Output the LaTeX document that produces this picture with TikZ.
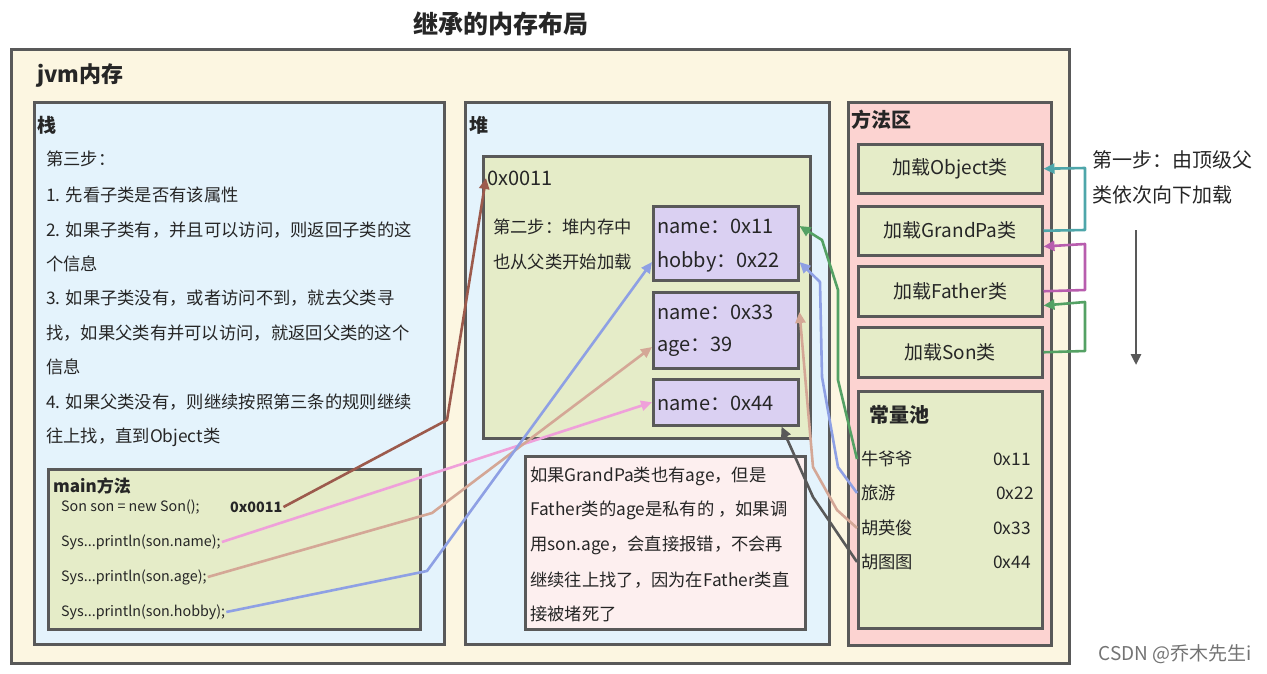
\documentclass[tikz,border=0pt]{standalone}
\usepackage{fontspec}
\setmainfont{Noto Sans CJK SC}
\usetikzlibrary{arrows.meta}
\definecolor{edge}{RGB}{89,89,89}
\definecolor{cream}{RGB}{252,246,225}
\definecolor{sky}{RGB}{228,243,252}
\definecolor{leaf}{RGB}{229,236,200}
\definecolor{lilac}{RGB}{218,208,242}
\definecolor{rose}{RGB}{252,211,209}
\definecolor{blush}{RGB}{253,239,239}
\definecolor{brownl}{RGB}{156,90,76}
\definecolor{pinkl}{RGB}{239,160,218}
\definecolor{tanl}{RGB}{212,167,150}
\definecolor{bluel}{RGB}{142,160,228}
\definecolor{greenl}{RGB}{84,161,100}
\definecolor{teall}{RGB}{78,166,170}
\definecolor{magl}{RGB}{184,93,174}
\newcommand{\fsize}[1]{\fontsize{#1}{#1}\selectfont}

\begin{document}
\begin{tikzpicture}[x=1pt,y=-1pt,
	box/.style={draw=edge,line width=2.5pt,anchor=north west,inner sep=0pt},
	head/.style={anchor=west,inner sep=1pt,font=\fsize{20}\bfseries,text=black!85},
	txt/.style={anchor=west,inner sep=1pt,font=\fsize{17.3},text=black!85},
	code/.style={anchor=west,inner sep=1pt,font=\fsize{14.3},text=black!85},
	field/.style={anchor=west,inner sep=1pt,font=\fsize{20},text=black!85},
	link/.style={line width=2.6pt,line join=round,-{Triangle[length=11pt,width=10pt]}}]
		\useasboundingbox (0,0) rectangle (1267,673);
		\node[anchor=west,inner sep=0pt,font=\fsize{25}\bfseries,text=black!85] (title) at (413,24) {继承的内存布局};
		\node[box,fill=cream,line width=3pt,minimum width=1058pt,minimum height=614pt] (jvm) at (10,48) {};
		\node[head,font=\fsize{22}\bfseries] (jvmt) at (36,76) {jvm内存};

		\node[box,fill=sky,minimum width=410pt,minimum height=542pt] (stack) at (33,101) {};
		\node[head,font=\fsize{19}\bfseries] (stackt) at (36,125) {栈};
		\node[txt] (s0) at (45,159) {第三步：};
		\node[txt] (s1) at (45,195) {1. 先看子类是否有该属性};
		\node[txt] (s2) at (45,230) {2. 如果子类有，并且可以访问，则返回子类的这};
		\node[txt] (s3) at (45,264) {个信息};
		\node[txt] (s4) at (45,298) {3. 如果子类没有，或者访问不到，就去父类寻};
		\node[txt] (s5) at (45,333) {找，如果父类有并可以访问，就返回父类的这个};
		\node[txt] (s6) at (45,367) {信息};
		\node[txt] (s7) at (45,402) {4. 如果父类没有，则继续按照第三条的规则继续};
		\node[txt] (s8) at (45,437) {往上找，直到Object类};

		\node[box,fill=leaf,minimum width=372pt,minimum height=160pt] (main) at (47,468) {};
		\node[head,font=\fsize{17}\bfseries] (maint) at (52,486) {main方法};
		\node[code] (snew) at (60,507) {Son son = new Son();};
		\node[code,font=\fsize{14.3}\bfseries] (addr) at (229,507) {0x0011};
		\node[code] (sname) at (60,542) {Sys...println(son.name);};
		\node[code] (sage) at (60,577) {Sys...println(son.age);};
		\node[code] (shobby) at (60,612) {Sys...println(son.hobby);};

		\node[box,fill=sky,minimum width=364pt,minimum height=542pt] (heap) at (464,101) {};
		\node[head,font=\fsize{19}\bfseries] (heapt) at (468,125) {堆};
		\node[box,fill=leaf,minimum width=327pt,minimum height=282pt] (obj) at (482,155) {};
		\node[field] (heapaddr) at (486,178) {0x0011};
		\node[txt] (h1) at (492,227) {第二步：堆内存中};
		\node[txt] (h2) at (492,262) {也从父类开始加载};
		\node[box,fill=lilac,minimum width=145pt,minimum height=74pt] (f1) at (652,205) {};
		\node[field] (n11) at (656,226) {name：0x11};
		\node[field] (hobby) at (656,262) {hobby：0x22};
		\node[box,fill=lilac,minimum width=145pt,minimum height=76pt] (f2) at (652,291) {};
		\node[field] (n33) at (656,312) {name：0x33};
		\node[field] (age) at (656,347) {age：39};
		\node[box,fill=lilac,minimum width=145pt,minimum height=46pt] (f3) at (652,378) {};
		\node[field] (n44) at (656,403) {name：0x44};

		\node[box,fill=blush,minimum width=280pt,minimum height=173pt] (note) at (524,455) {};
		\node[txt] (t1) at (529,476) {如果GrandPa类也有age，但是};
		\node[txt] (t2) at (529,510) {Father类的age是私有的 ，如果调};
		\node[txt] (t3) at (529,545) {用son.age，会直接报错，不会再};
		\node[txt] (t4) at (529,580) {继续往上找了，因为在Father类直};
		\node[txt] (t5) at (529,614) {接被堵死了};

		\node[box,fill=rose,minimum width=203pt,minimum height=543pt] (area) at (847,101) {};
		\node[head] (areat) at (850,120) {方法区};
		\node[box,fill=leaf,minimum width=184pt,minimum height=49pt,font=\fsize{19},text=black!85] (kObj) at (857,143) {加载Object类};
		\node[box,fill=leaf,minimum width=184pt,minimum height=49pt,font=\fsize{19},text=black!85] (kGP) at (857,205) {加载GrandPa类};
		\node[box,fill=leaf,minimum width=184pt,minimum height=50pt,font=\fsize{19},text=black!85] (kFa) at (857,265) {加载Father类};
		\node[box,fill=leaf,minimum width=184pt,minimum height=50pt,font=\fsize{19},text=black!85] (kSon) at (857,326) {加载Son类};
		\node[box,fill=leaf,minimum width=184pt,minimum height=237pt] (pool) at (857,390) {};
		\node[head] (poolt) at (868,415) {常量池};
		\node[txt] (c1) at (860,459) {牛爷爷};
		\node[txt] (c2) at (860,493) {旅游};
		\node[txt] (c3) at (860,528) {胡英俊};
		\node[txt] (c4) at (860,562) {胡图图};
		\node[txt,anchor=east] (v1) at (1032,459) {0x11};
		\node[txt,anchor=east] (v2) at (1035,493) {0x22};
		\node[txt,anchor=east] (v3) at (1032,528) {0x33};
		\node[txt,anchor=east] (v4) at (1032,562) {0x44};

		\node[txt,font=\fsize{20}] (r1) at (1091,160) {第一步：由顶级父};
		\node[txt,font=\fsize{20}] (r2) at (1091,195) {类依次向下加载};
		\coordinate (dtop) at (1136,230);
		\coordinate (dend) at (1136,365);
		\draw[link,edge] (dtop) -- (dend);

		\node[txt,anchor=east,font=\fsize{19},text=black!55] (csdn) at (1253,654) {CSDN @乔木先生i};

		\draw[link,brownl] (addr.east) -- (447,420) -- (heapaddr.west);
		\draw[link,pinkl] (sname.east) -- (f3.west);
		\draw[link,tanl] (sage.east) -- (432,513) -- (f2.west |- age);
		\draw[link,bluel] (shobby.east) -- (427,571) -- (f1.west |- hobby);

		\draw[link,greenl] (pool.west |- c1) -- (838,380) -- (838,290) -- (822,240) -- (f1.east |- n11);
		\draw[link,bluel] (pool.west |- c2) -- (838,467) -- (822,377) -- (820,282) -- (f1.east |- hobby);
		\draw[link,tanl] (pool.west |- c3) -- (837,510) -- (813,467) -- (f2.east |- n33);
		\draw[link,edge] (pool.west |- c4) -- (813,497) -- ([xshift=-18pt]f3.south east);

		\draw[link,teall] (kGP.east) -- (1085,230) -- (1085,168) -- (kObj.east);
		\draw[link,magl] (kFa.east) -- (1085,290) -- (1085,244) -- ([yshift=10pt]kGP.south east);
		\draw[link,greenl] (kSon.east) -- (1085,351) -- (1085,302) -- ([yshift=12pt]kFa.south east);
	\end{tikzpicture}
\end{document}
